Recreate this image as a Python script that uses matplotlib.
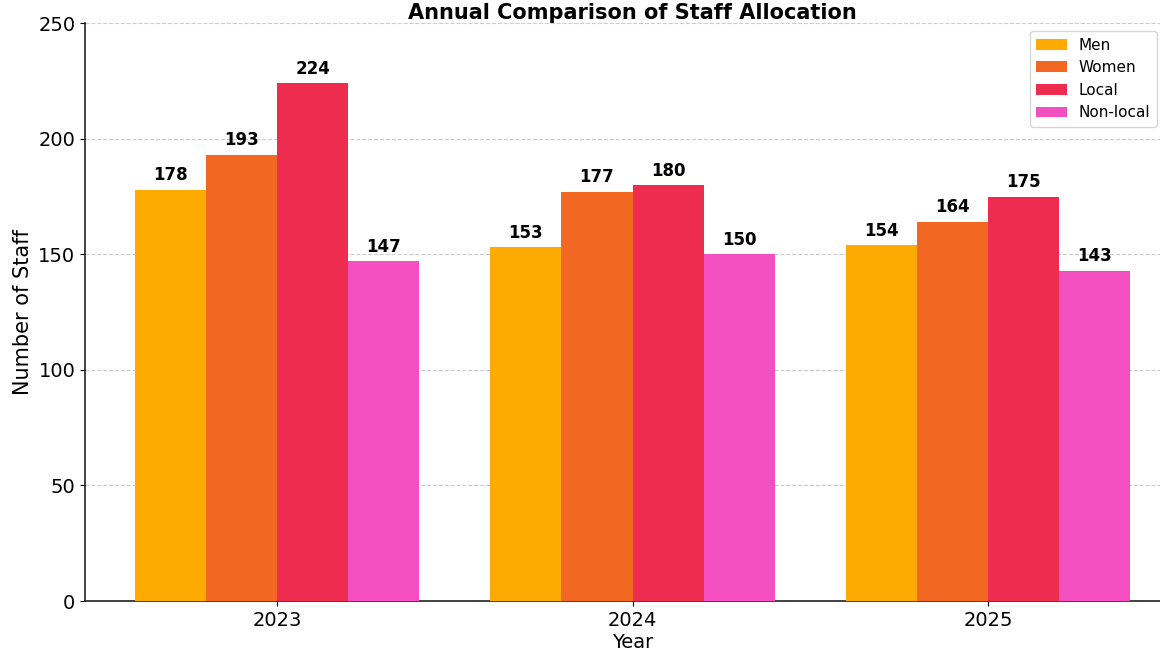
import numpy as np
from matplotlib import pyplot as plt


years = ['2023', '2024', '2025']
men = [178, 153, 154]
women = [193, 177, 164]
local = [224, 180, 175]
non_local = [147, 150, 143]

series = [('Men', men, '#FFAA00'),
          ('Women', women, '#F26822'),
          ('Local', local, '#EE2C4F'),
          ('Non-local', non_local, '#F34FC0')]


def report():
    fig = plt.figure(figsize=(11.6, 6.55), dpi=100)
    ax = fig.add_axes([0.0733, 0.0824, 0.944, 0.882])

    x = np.arange(len(years))
    width = 0.2

    for i, (name, values, color) in enumerate(series):
        pos = x + (i - 1.5) * width
        bars = ax.bar(pos, values, width, color=color, label=name, zorder=3)
        for rect, v in zip(bars, values):
            ax.annotate(str(v), (rect.get_x() + rect.get_width() / 2, v),
                        xytext=(0, 4), textcoords='offset points',
                        ha='center', va='bottom', fontsize=12, fontweight='bold')

    ax.set_ylim(0, 250)
    ax.set_xticks(x)
    ax.set_xticklabels(years)
    ax.tick_params(axis='both', labelsize=14)
    ax.set_xlabel('Year', fontsize=14, labelpad=2)
    ax.set_ylabel('Number of Staff', fontsize=15)
    ax.set_title('Annual Comparison of Staff Allocation', fontsize=15,
                 fontweight='bold', pad=0)

    ax.yaxis.grid(True, linestyle='--', color='#cccccc', linewidth=0.8, zorder=0)
    ax.spines['top'].set_visible(False)
    ax.spines['right'].set_visible(False)
    for s in ('left', 'bottom'):
        ax.spines[s].set_color('#222222')
        ax.spines[s].set_linewidth(1.2)

    ax.legend(loc='upper right', bbox_to_anchor=(0.997, 0.952),
              bbox_transform=fig.transFigure, borderaxespad=0, fontsize=11)

    fig.savefig('out.png', dpi=100, facecolor='white')


if __name__ == "__main__":
    report()
